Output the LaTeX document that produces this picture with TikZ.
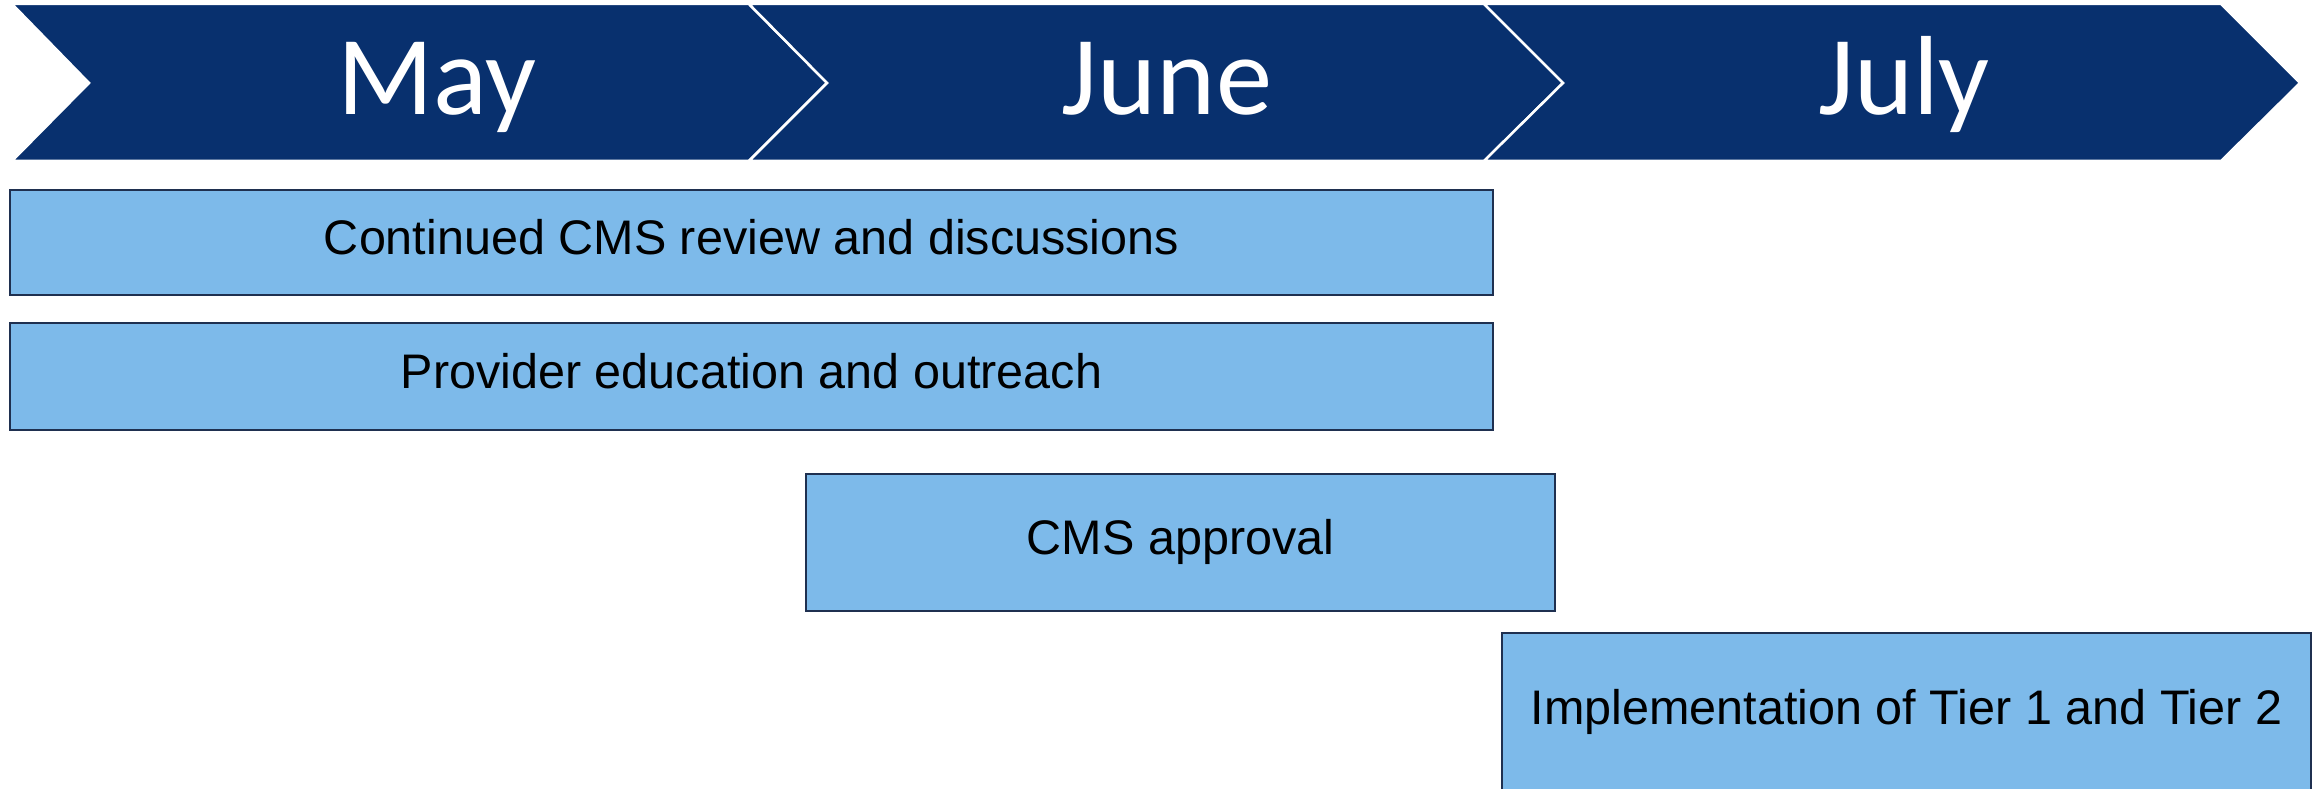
\documentclass[tikz,border=0pt]{standalone}
\usepackage{fontspec}
\setmainfont{Liberation Sans}
\newfontfamily\monthfont{Carlito}
\definecolor{navy}{RGB}{8,48,110}
\definecolor{boxfill}{RGB}{125,186,234}
\definecolor{boxline}{RGB}{31,48,80}
\begin{document}
\begin{tikzpicture}[x=0.01cm,y=-0.01cm,
  chevron/.style={fill=navy,draw=white,line width=0.025cm,line join=miter},
  monthlabel/.style={text=white,font=\monthfont\fontsize{32}{36}\selectfont,anchor=base,inner sep=0pt},
  taskbox/.style={draw=boxline,fill=boxfill,line width=0.02cm,rectangle,inner sep=0pt,
    font=\fontsize{13.8}{16}\selectfont,text height=0.66em,text depth=0pt},
]
\useasboundingbox (0,0) rectangle (2316,789);
\clip (0,0) rectangle (2316,789);
% banner chevrons
\path[chevron] (12,4) -- (749,4) -- (827,83) -- (749,161) -- (12,161) -- (89,83) -- cycle;
\path[chevron] (749,4) -- (1484,4) -- (1563,83) -- (1484,161) -- (749,161) -- (827,83) -- cycle;
\path[chevron] (1484,4) -- (2221,4) -- (2300,83) -- (2221,161) -- (1484,161) -- (1563,83) -- cycle;
\node[monthlabel] (may) at (437,115) {May};
\node[monthlabel] (june) at (1167,115) {June};
\node[monthlabel] (july) at (1904,115) {July};
% task boxes
\node[taskbox,minimum width=14.83cm,minimum height=1.05cm] (review) at (751.5,242.5) {Continued CMS review and discussions};
\node[taskbox,minimum width=14.83cm,minimum height=1.07cm] (outreach) at (751.5,376.5) {Provider education and outreach};
\node[taskbox,minimum width=7.49cm,minimum height=1.37cm] (approval) at (1180.5,542.5) {CMS approval};
\node[taskbox,minimum width=8.09cm,minimum height=1.60cm] (impl) at (1906.5,713) {Implementation of Tier 1 and Tier 2};
\end{tikzpicture}
\end{document}
